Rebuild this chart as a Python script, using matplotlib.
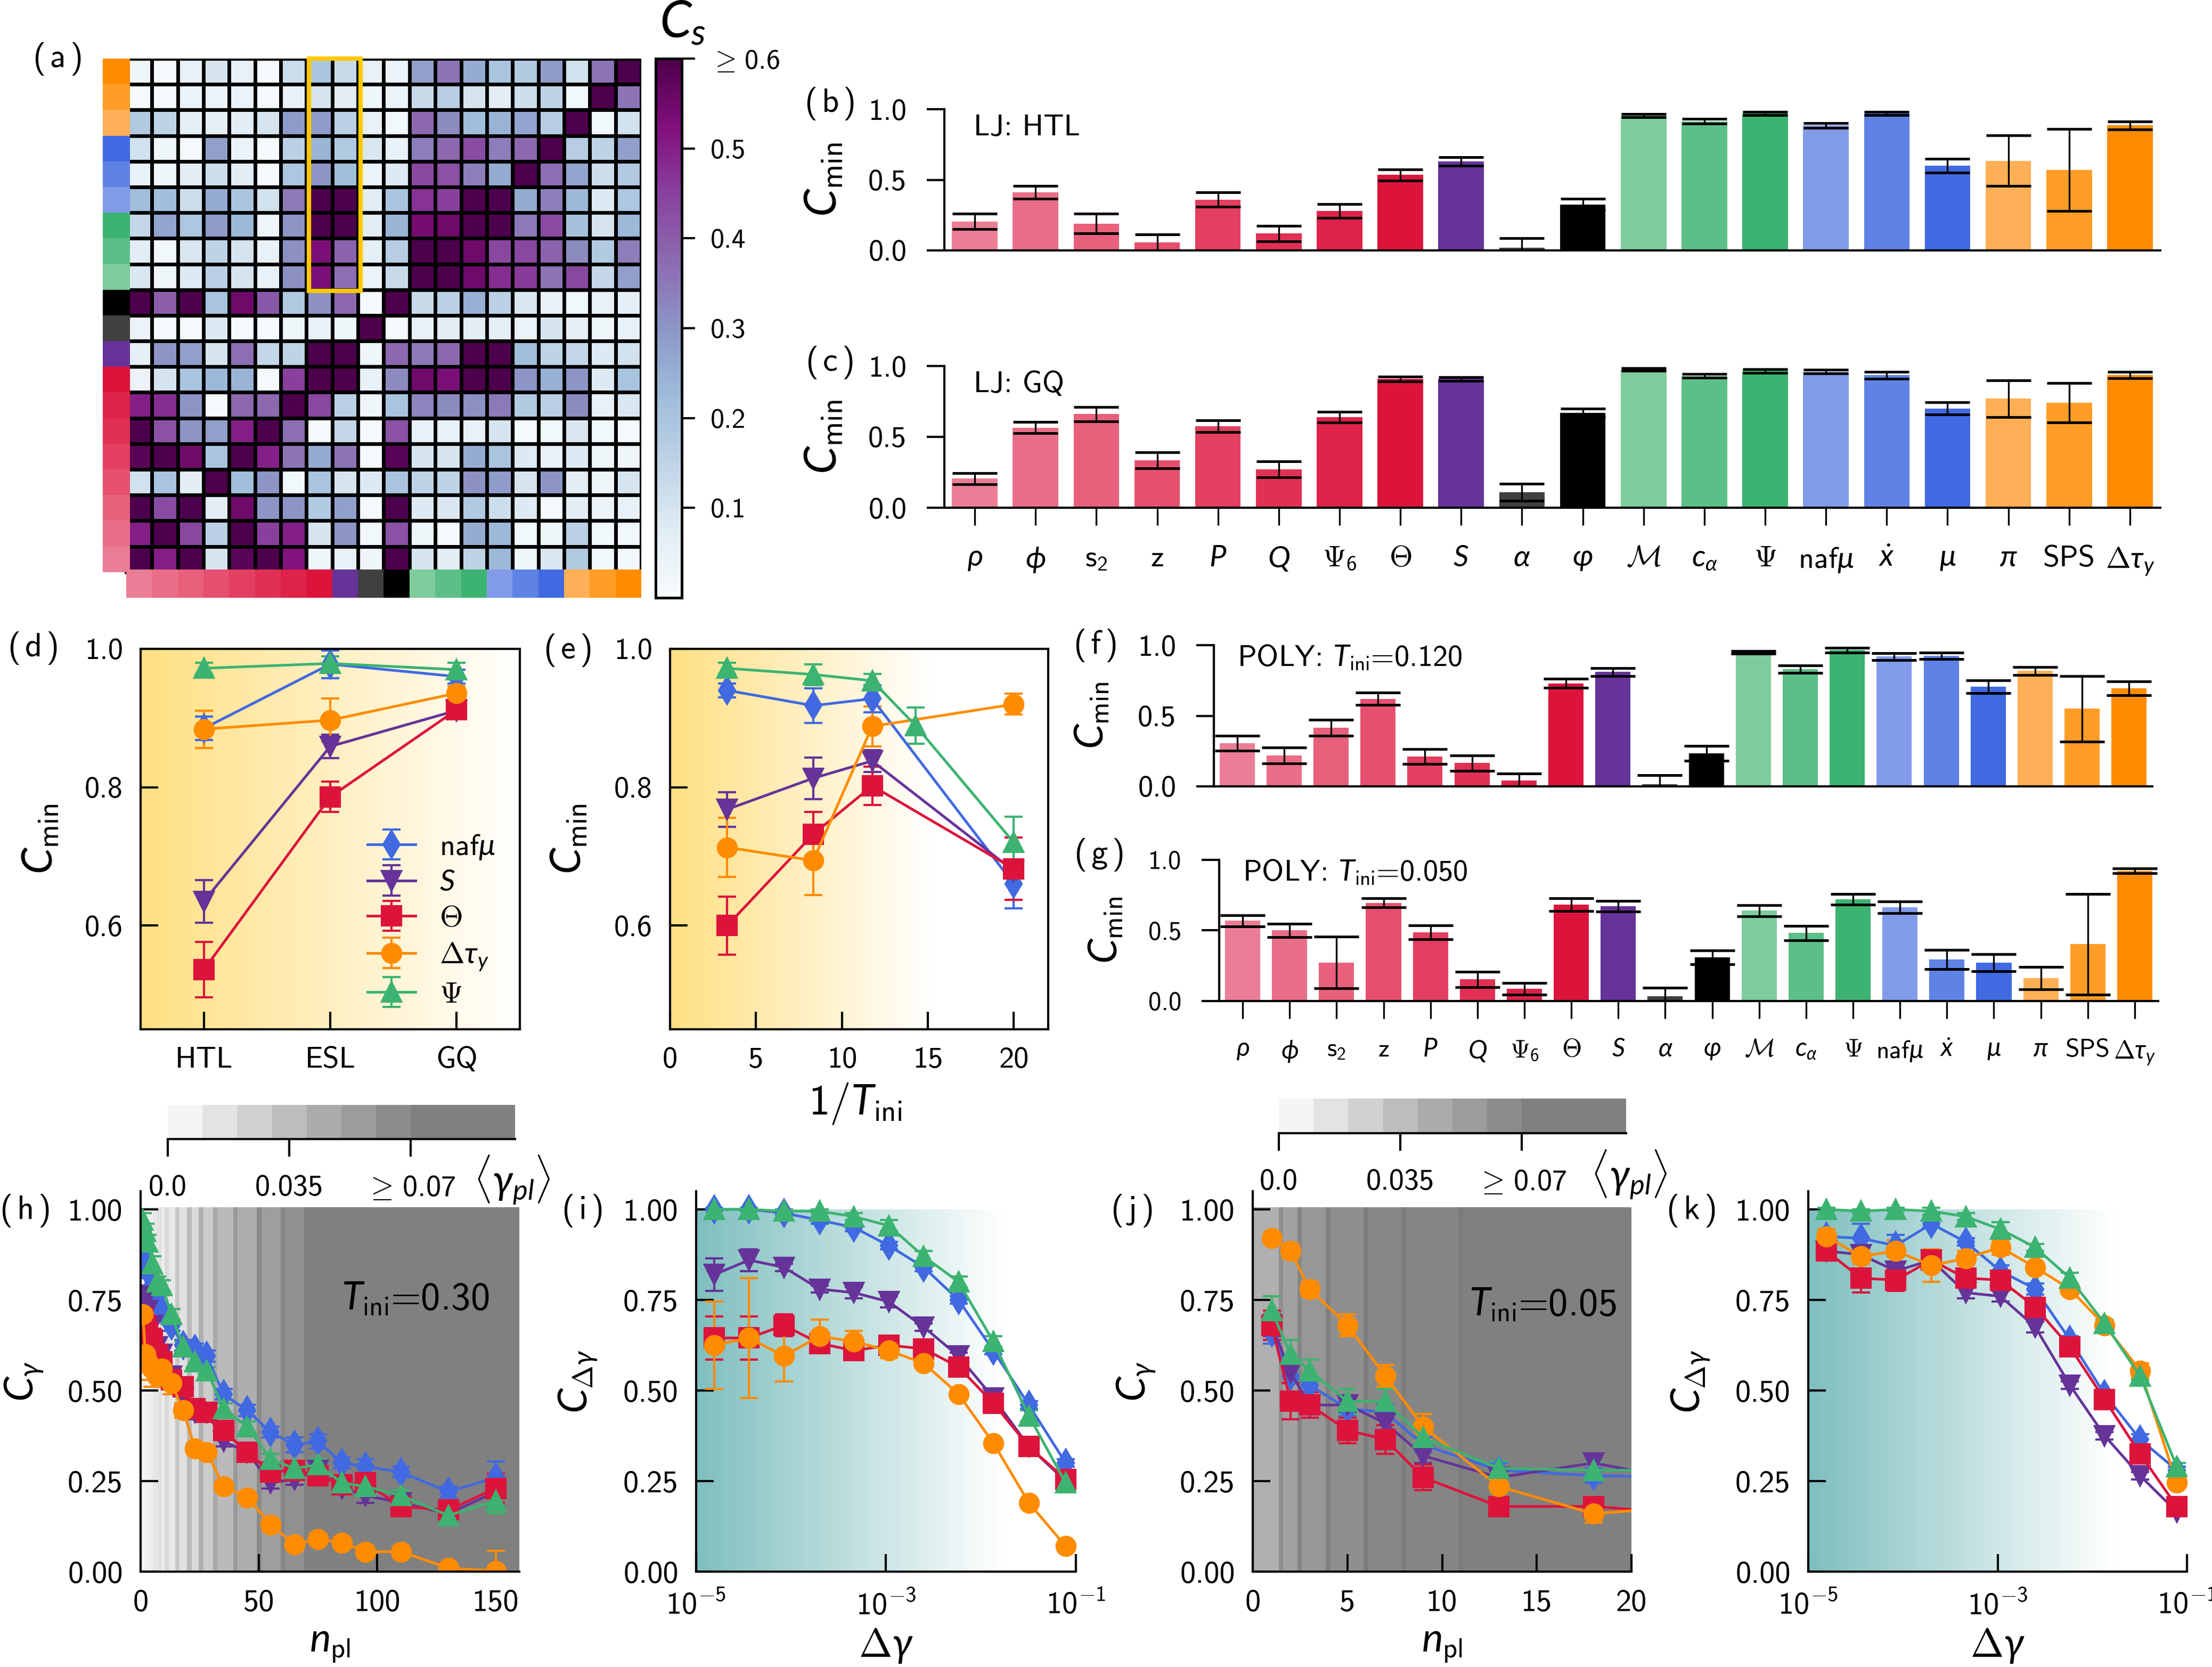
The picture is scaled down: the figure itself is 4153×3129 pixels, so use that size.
import numpy as np
import matplotlib
matplotlib.use("Agg")
import matplotlib.pyplot as plt
from matplotlib.colors import LinearSegmentedColormap, Normalize
from matplotlib.patches import Rectangle
from matplotlib.cm import ScalarMappable

plt.rcParams['font.family'] = ['cmss10', 'DejaVu Sans']
plt.rcParams['mathtext.fontset'] = 'custom'
plt.rcParams['mathtext.rm'] = 'cmss10'
plt.rcParams['mathtext.sf'] = 'cmss10'
plt.rcParams['mathtext.it'] = 'Lato:italic'
plt.rcParams['mathtext.cal'] = 'cmsy10'
plt.rcParams['mathtext.fallback'] = 'cm'
plt.rcParams['axes.unicode_minus'] = False
plt.rcParams['axes.linewidth'] = 1.0

W, H = 4153, 3129
DPI = 300

# observables
obs_labels = [r'$\rho$', r'$\phi$', r'$\mathsf{s}_2$', 'z', r'$P$', r'$Q$', r'$\Psi_6$', r'$\Theta$', r'$S$',
              r'$\alpha$', r'$\varphi$', r'$\mathcal{M}$', r'$c_\alpha$', r'$\Psi$', r'naf$\mu$', r'$\dot{x}$',
              r'$\mu$', r'$\pi$', 'SPS', r'$\Delta\tau_y$']
obs_colors = ['#ec7d96', '#ea6e87', '#e8607b', '#e64f6f', '#e33f60', '#e13054', '#de2249', '#dc143c', '#663399',
              '#404040', '#000000', '#7ecb9c', '#5cbf87', '#3cb371', '#829be9', '#5f82e5', '#4169e1',
              '#ffb056', '#ff9d26', '#ff8c00']

# panel a, rows top to bottom (reversed observables), columns rho ... dtau_y
cs_matrix = [
    [.03, .01, .05, .10, .05, .01, .12, .20, .13, .05, .04, .28, .36, .26, .20, .18, .29, .11, .36, .60],
    [.01, .01, .04, .04, .04, .01, .05, .10, .07, .03, .04, .13, .17, .10, .07, .12, .15, .02, .60, .36],
    [.18, .15, .06, .06, .07, .10, .29, .29, .16, .05, .02, .38, .32, .22, .24, .27, .17, .60, .02, .11],
    [.11, .03, .01, .28, .04, .01, .16, .24, .18, .09, .05, .34, .38, .43, .34, .38, .60, .17, .15, .28],
    [.05, .03, .07, .12, .07, .01, .19, .30, .22, .04, .08, .44, .42, .34, .26, .60, .37, .27, .12, .18],
    [.22, .22, .12, .26, .20, .11, .35, .60, .60, .07, .20, .47, .45, .60, .60, .26, .34, .23, .08, .19],
    [.14, .27, .19, .29, .23, .03, .30, .60, .60, .07, .24, .54, .55, .60, .60, .35, .43, .21, .10, .23],
    [.07, .02, .09, .15, .10, .05, .31, .53, .39, .06, .17, .60, .60, .55, .44, .44, .39, .32, .18, .34],
    [.09, .03, .08, .16, .10, .05, .31, .53, .37, .04, .13, .60, .60, .55, .48, .46, .36, .44, .14, .28],
    [.60, .40, .60, .20, .55, .41, .18, .31, .38, .01, .60, .13, .16, .25, .16, .09, .05, .02, .05, .06],
    [.04, .01, .01, .08, .01, .01, .03, .05, .03, .60, .01, .05, .07, .07, .06, .04, .10, .06, .03, .05],
    [.06, .30, .28, .10, .37, .14, .15, .60, .60, .03, .38, .35, .38, .60, .60, .22, .15, .14, .08, .11],
    [.04, .10, .20, .23, .24, .01, .45, .60, .60, .05, .32, .55, .53, .60, .60, .30, .25, .30, .08, .20],
    [.50, .48, .30, .01, .38, .38, .60, .44, .16, .03, .20, .33, .32, .31, .35, .18, .16, .32, .05, .09],
    [.60, .42, .30, .28, .50, .60, .37, .01, .14, .01, .42, .05, .05, .05, .10, .01, .02, .09, .02, .01],
    [.58, .60, .55, .20, .60, .50, .36, .26, .36, .01, .58, .10, .10, .26, .20, .08, .05, .08, .03, .03],
    [.11, .20, .07, .60, .22, .30, .02, .20, .10, .08, .20, .15, .15, .31, .29, .10, .30, .07, .03, .10],
    [.60, .43, .60, .07, .55, .30, .30, .18, .28, .01, .60, .08, .09, .18, .12, .08, .01, .07, .04, .05],
    [.50, .60, .44, .16, .60, .45, .50, .10, .30, .02, .42, .03, .01, .26, .23, .02, .03, .16, .02, .02],
    [.60, .50, .60, .10, .58, .60, .52, .03, .05, .03, .60, .10, .07, .15, .23, .03, .09, .18, .02, .02],
]
cs_ticks = [0.1, 0.2, 0.3, 0.4, 0.5, 0.6]
cs_ticklabels = ['0.1', '0.2', '0.3', '0.4', '0.5', r'$\geq\,$0.6']

# bar panels
b_vals = [.205, .41, .19, .055, .36, .12, .28, .535, .63, .02, .325, .955, .915, .97, .885, .97, .60, .635, .57, .885]
b_errs = [.055, .045, .07, .06, .05, .055, .05, .04, .03, .065, .04, .012, .018, .012, .017, .01, .05, .18, .29, .03]
c_vals = [.205, .565, .66, .335, .575, .27, .64, .908, .908, .11, .67, .975, .93, .965, .96, .935, .70, .77, .74, .935]
c_errs = [.04, .04, .05, .057, .043, .057, .038, .017, .014, .06, .03, .01, .013, .012, .014, .025, .043, .13, .14, .022]
f_vals = [.305, .22, .415, .62, .21, .165, .04, .73, .81, .015, .233, .95, .83, .965, .92, .925, .705, .817, .55, .695]
f_errs = [.053, .057, .055, .043, .053, .055, .05, .032, .028, .065, .053, .01, .026, .016, .025, .023, .045, .03, .233, .05]
g_vals = [.568, .50, .272, .696, .486, .153, .087, .683, .671, .034, .31, .64, .482, .72, .664, .295, .272, .162, .402, .922]
g_errs = [.04, .046, .183, .033, .05, .055, .043, .045, .037, .06, .05, .04, .05, .038, .042, .068, .06, .08, .355, .016]

# line series colours, markers, names
ser_names = [r'naf$\mu$', r'$S$', r'$\Theta$', r'$\Delta\tau_y$', r'$\Psi$']
ser_colors = ['#4169e1', '#663399', '#dc143c', '#ff8c00', '#3cb371']
ser_markers = ['d', 'v', 's', 'o', '^']

# panel d
d_cats = ['HTL', 'ESL', 'GQ']
d_vals = [[.885, .978, .96], [.635, .859, .911], [.536, .786, .912], [.884, .897, .936], [.972, .979, .97]]
d_errs = [[.017, .02, .01], [.031, .017, .01], [.04, .022, .012], [.027, .031, .01], [.008, .01, .01]]

# panel e
e_x = [3.33, 8.33, 11.76, 20]
e_psi_x = [3.33, 8.33, 11.76, 14.29, 20]
e_vals = [[.94, .918, .928, .66], [.768, .813, .838, .679], [.60, .732, .802, .682], [.713, .694, .888, .92],
          [.972, .963, .954, .889, .72]]
e_errs = [[.01, .025, .02, .035], [.025, .03, .016, .01], [.042, .032, .028, .045], [.043, .05, .029, .015],
          [.008, .015, .01, .026, .037]]

# panels h, j
npl = [1, 2, 3, 5, 7, 9, 13, 18, 23, 28, 35, 45, 55, 65, 75, 85, 95, 110, 130, 150]
h_vals = [
    [.92, .87, .83, .79, .76, .72, .68, .625, .615, .595, .49, .445, .385, .35, .36, .30, .29, .275, .22, .26],
    [.76, .75, .72, .68, .62, .60, .54, .48, .44, .44, .36, .33, .245, .255, .28, .23, .21, .19, .16, .22],
    [.70, .68, .66, .64, .60, .58, .53, .51, .45, .44, .39, .33, .275, .28, .265, .24, .245, .18, .17, .23],
    [.71, .60, .58, .56, .54, .56, .52, .445, .34, .33, .235, .205, .13, .075, .09, .08, .055, .055, .01, .002],
    [.97, .94, .91, .85, .80, .79, .71, .62, .58, .555, .45, .40, .31, .285, .295, .245, .235, .21, .155, .195],
]
h_errs = [
    [.02, .02, .02, .02, .02, .015, .015, .015, .015, .015, .015, .015, .015, .02, .02, .015, .02, .015, .015, .045],
    [.03, .03, .02, .02, .02, .02, .02, .02, .02, .015, .015, .015, .015, .015, .02, .015, .02, .015, .02, .04],
    [.04, .03, .03, .03, .02, .02, .02, .02, .02, .02, .015, .015, .015, .015, .015, .015, .015, .01, .015, .04],
    [.05, .05, .05, .05, .03, .03, .03, .02, .015, .015, .015, .015, .015, .015, .015, .015, .015, .015, .01, .055],
    [.02, .02, .02, .02, .015, .015, .015, .015, .015, .01, .015, .015, .015, .02, .015, .015, .015, .015, .015, .035],
]
j_vals = [
    [.66, .54, .515, .45, .44, .35, .28, .265, .26],
    [.68, .55, .46, .46, .41, .32, .26, .30, .25],
    [.68, .47, .46, .39, .365, .26, .18, .18, .16],
    [.92, .885, .78, .68, .54, .40, .235, .16, .18],
    [.72, .60, .555, .47, .47, .37, .285, .28, .28],
]
j_errs = [
    [.03, .02, .02, .02, .02, .02, .02, .02, .02],
    [.03, .03, .02, .02, .02, .02, .02, .02, .02],
    [.04, .05, .035, .035, .04, .035, .02, .02, .02],
    [.01, .02, .02, .03, .03, .035, .03, .025, .02],
    [.04, .04, .03, .035, .035, .02, .02, .02, .02],
]
npl_j = [1, 2, 3, 5, 7, 9, 13, 18, 23]

# panels i, k
dgamma = [1.56e-5, 3.6e-5, 8.4e-5, 2e-4, 4.6e-4, 1.07e-3, 2.5e-3, 5.8e-3, 1.35e-2, 3.2e-2, 7.8e-2]
i_vals = [
    [1.0, 1.0, .99, .97, .95, .90, .84, .75, .61, .46, .30],
    [.82, .86, .84, .78, .77, .745, .675, .595, .48, .345, .25],
    [.645, .645, .68, .63, .61, .625, .615, .565, .465, .345, .255],
    [.625, .645, .595, .65, .635, .61, .575, .49, .355, .19, .07],
    [1.0, 1.0, .995, .995, .98, .955, .87, .80, .635, .43, .245],
]
i_errs = [
    [.005, .005, .005, .01, .01, .01, .01, .01, .01, .01, .01],
    [.045, .03, .01, .01, .015, .015, .01, .01, .01, .01, .01],
    [.06, .06, .03, .015, .015, .01, .015, .01, .01, .01, .01],
    [.12, .165, .07, .045, .03, .02, .01, .01, .01, .01, .01],
    [.005, .005, .005, .005, .01, .015, .015, .015, .015, .015, .01],
]
k_vals = [
    [.925, .92, .90, .96, .91, .83, .78, .64, .49, .365, .28],
    [.885, .875, .83, .86, .77, .76, .675, .515, .375, .265, .165],
    [.885, .81, .805, .86, .81, .805, .73, .62, .475, .325, .18],
    [.925, .87, .885, .845, .865, .895, .84, .78, .68, .555, .245],
    [1.0, .995, 1.0, .995, .98, .945, .895, .81, .685, .54, .29],
]
k_errs = [
    [.01, .04, .03, .01, .01, .015, .015, .01, .01, .015, .01],
    [.01, .015, .01, .01, .015, .015, .015, .01, .01, .01, .01],
    [.02, .04, .03, .02, .02, .015, .015, .01, .01, .01, .01],
    [.02, .02, .03, .045, .02, .02, .015, .01, .01, .02, .01],
    [.005, .005, .005, .01, .01, .02, .01, .015, .01, .01, .01],
]

# gray backgrounds of h, j and the <gamma_pl> scale
h_band_edges = [0, 1.35, 3.2, 5.1, 7.1, 9, 10.1, 11.9, 14.6, 16.5, 19.6, 21.5, 24.6, 26.5, 30.6, 32.4, 39.1, 41,
                49.1, 51, 59.1, 61, 69.1, 160]
h_band_gray = [.96, .94, .93, .90, .88, .93, .85, .91, .78, .88, .73, .85, .69, .80, .66, .73, .60, .68, .54, .62,
               .52, .565, .50]
j_band_edges = [0, 1.37, 1.6, 2.37, 2.6, 3.86, 4.1, 5.86, 6.1, 7.86, 8.1, 10.85, 11.1, 20]
j_band_gray = [.69, .56, .63, .52, .59, .50, .56, .49, .535, .49, .52, .485, .50]
gp_edges = [0, .01, .02, .03, .04, .05, .06, .07, .10]
gp_gray = [.96, .89, .82, .74, .67, .61, .55, .50]
gp_ticks = [0, .035, .07]
gp_ticklabels = ['0.0', '0.035', r'$\geq\,$0.07']


def px_axes(fig, left, right, top, bottom):
    return fig.add_axes([left / W, 1 - bottom / H, (right - left) / W, (bottom - top) / H])


def panel_label(fig, s, x, y):
    fig.text(x / W, 1 - y / H, r'$(\,\mathsf{' + s + r'}\,)$', ha='center', va='center', fontsize=15)


def style_open(ax):
    ax.spines['top'].set_visible(False)
    ax.spines['right'].set_visible(False)


def gradient(ax, color, frac, top=1.0):
    cm = LinearSegmentedColormap.from_list('g', ['white', color])
    ax.imshow(np.linspace(1, 0, 256)[None, :], cmap=cm, vmin=0, vmax=1, aspect='auto', zorder=0,
              extent=(0, frac, 0, top), transform=ax.transAxes)


def bar_panel(ax, vals, errs, ylx, tickfs=13.5, labfs=20, show_x=False, xfs=13.5):
    ax.bar(range(20), vals, width=0.75, color=obs_colors, yerr=errs,
           error_kw=dict(ecolor='k', capsize=10, capthick=1.2, elinewidth=0.8))
    ax.set_xlim(-0.5, 19.5)
    ax.set_ylim(0, 1)
    style_open(ax)
    ax.set_yticks([0, .5, 1])
    ax.set_yticklabels(['0.0', '0.5', '1.0'], fontsize=tickfs)
    ax.tick_params(axis='y', length=8, width=1.0, pad=9)
    if show_x:
        ax.set_xticks(range(20))
        ax.set_xticklabels(obs_labels, fontsize=xfs)
        ax.tick_params(axis='x', length=8, width=0.8, pad=9)
    else:
        ax.set_xticks([])
    ax.set_ylabel(r'$C_{\mathsf{min}}$', fontsize=labfs, va='center')
    ax.yaxis.set_label_coords(ylx, 0.5)


def line_series(ax, xs, vals, errs, lw=1.2):
    for k in range(5):
        x = xs[k] if isinstance(xs[0], list) else xs
        ax.errorbar(x, vals[k], yerr=errs[k], color=ser_colors[k], marker=ser_markers[k], ms=8.5, lw=lw,
                    capsize=4, capthick=1.0, elinewidth=1.0, label=ser_names[k])


def decay_panel(ax, ylab, ylx):
    ax.set_ylim(0, 1.05)
    style_open(ax)
    ax.set_yticks([0, .25, .5, .75, 1])
    ax.set_yticklabels(['0.00', '0.25', '0.50', '0.75', '1.00'], fontsize=14)
    ax.tick_params(axis='both', which='major', direction='in', length=8, width=1.0, pad=8)
    ax.tick_params(axis='x', which='minor', length=0)
    ax.set_ylabel(ylab, fontsize=18, va='center')
    ax.yaxis.set_label_coords(ylx, 0.5)


def gamma_scale(fig, left, right, top, bottom, lab_x, lab_y):
    ax = px_axes(fig, left, right, top, bottom)
    ax.pcolormesh(gp_edges, [0, 1], np.array(gp_gray)[None, :], cmap='gray', vmin=0, vmax=1)
    for s in ['top', 'left', 'right']:
        ax.spines[s].set_visible(False)
    ax.set_yticks([])
    ax.set_xticks(gp_ticks)
    ax.set_xticklabels(gp_ticklabels, fontsize=13.5)
    ax.tick_params(axis='x', length=8, width=1.0, pad=8)
    fig.text(lab_x / W, 1 - lab_y / H, r'$\langle \gamma_{pl} \rangle$', fontsize=18, ha='center', va='center')


fig = plt.figure(figsize=(W / DPI, H / DPI), dpi=DPI)

# (a) similarity matrix
ax = px_axes(fig, 193, 1204, 110, 1122)
cmap_cs = plt.get_cmap('BuPu')
norm_cs = Normalize(0, 0.6)
edges = np.arange(21)
ax.pcolormesh(edges, edges, cs_matrix, cmap=cmap_cs, norm=norm_cs, edgecolors='k', linewidth=1.6)
ax.barh(np.arange(20) + 0.5, 1.06, left=-0.91, height=1, color=obs_colors[::-1], zorder=3)
ax.bar(np.arange(20) + 0.5, 1.1, bottom=19.9, width=1, color=obs_colors, zorder=3)
ax.add_patch(Rectangle((7.1, 0), 2, 9.05, fill=False, ec='#ffc800', lw=2.0, zorder=4, clip_on=False))
ax.set_xlim(-0.91, 20)
ax.set_ylim(21, 0)
ax.axis('off')

cax = px_axes(fig, 1231, 1280, 110, 1122)
cb = fig.colorbar(ScalarMappable(norm=norm_cs, cmap=cmap_cs), cax=cax, ticks=cs_ticks)
cb.ax.set_yticklabels(cs_ticklabels, fontsize=12.5)
cb.ax.tick_params(length=6, width=1.0, pad=7)
cb.outline.set_linewidth(1.2)
fig.text(1282 / W, 1 - 44 / H, r'$C_s$', fontsize=23, ha='center', va='center')

# (b) (c) LJ bars
ax = px_axes(fig, 1773, 4056, 205, 470)
bar_panel(ax, b_vals, b_errs, -0.0986)
ax.text(0.024, 0.87, 'LJ: HTL', transform=ax.transAxes, fontsize=13.5, va='center')
ax = px_axes(fig, 1773, 4056, 687, 953)
bar_panel(ax, c_vals, c_errs, -0.0986, show_x=True)
ax.text(0.024, 0.87, 'LJ: GQ', transform=ax.transAxes, fontsize=13.5, va='center')

# (f) (g) POLY bars
ax = px_axes(fig, 2279, 4041, 1211, 1476)
bar_panel(ax, f_vals, f_errs, -0.129, labfs=18)
ax.text(0.025, 0.91, r'POLY: $T_{\mathsf{ini}}$=0.120', transform=ax.transAxes, fontsize=13.5, va='center')
ax = px_axes(fig, 2289, 4052, 1614, 1879)
bar_panel(ax, g_vals, g_errs, -0.12, tickfs=11.7, labfs=18, show_x=True, xfs=11.5)
ax.text(0.025, 0.91, r'POLY: $T_{\mathsf{ini}}$=0.050', transform=ax.transAxes, fontsize=13.5, va='center')

# (d)
ax = px_axes(fig, 264, 976, 1218, 1932)
gradient(ax, '#ffe083', 1.0)
line_series(ax, range(3), d_vals, d_errs)
ax.set_xlim(-0.5, 2.5)
ax.set_ylim(0.45, 1.0)
ax.set_xticks(range(3))
ax.set_xticklabels(d_cats, fontsize=13.5)
ax.set_yticks([.6, .8, 1.0])
ax.set_yticklabels(['0.6', '0.8', '1.0'], fontsize=13.5)
ax.tick_params(direction='in', length=8, width=1.0, pad=8)
ax.set_ylabel(r'$C_{\mathsf{min}}$', fontsize=19, va='center')
ax.yaxis.set_label_coords(-0.263, 0.5)
ax.legend(loc='lower right', frameon=False, fontsize=13.5, labelspacing=0.29, handlelength=1.6, handletextpad=0.8,
          borderaxespad=0.3, bbox_to_anchor=(0.99, 0.0))

# (e)
ax = px_axes(fig, 1258, 1968, 1218, 1932)
gradient(ax, '#ffe083', 0.69)
line_series(ax, [e_x, e_x, e_x, e_x, e_psi_x], e_vals, e_errs)
ax.set_xlim(0, 22)
ax.set_ylim(0.45, 1.0)
ax.set_xticks([0, 5, 10, 15, 20])
ax.set_xticklabels(['0', '5', '10', '15', '20'], fontsize=13.5)
ax.set_yticks([.6, .8, 1.0])
ax.set_yticklabels(['0.6', '0.8', '1.0'], fontsize=13.5)
ax.tick_params(direction='in', length=8, width=1.0, pad=8)
ax.set_ylabel(r'$C_{\mathsf{min}}$', fontsize=19, va='center')
ax.yaxis.set_label_coords(-0.266, 0.5)
ax.set_xlabel(r'$1/T_{\mathsf{ini}}$', fontsize=19, va='center')
ax.xaxis.set_label_coords(0.49, -0.195)

# (h)
ax = px_axes(fig, 264, 975, 2236, 2950)
ax.pcolormesh(h_band_edges, [0, 1.006], np.array(h_band_gray)[None, :], cmap='gray', vmin=0, vmax=1, zorder=0)
line_series(ax, npl, h_vals, h_errs)
ax.set_xlim(0, 160)
ax.set_xticks([0, 50, 100, 150])
ax.set_xticklabels(['0', '50', '100', '150'], fontsize=14)
decay_panel(ax, r'$C_{\gamma}$', -0.307)
ax.set_xlabel(r'$n_{\mathsf{pl}}$', fontsize=18, va='center')
ax.xaxis.set_label_coords(0.5, -0.195)
ax.text(0.53, 0.716, r'$T_{\mathsf{ini}}$=0.30', transform=ax.transAxes, fontsize=17.5, va='center')

# (i)
ax = px_axes(fig, 1307, 2020, 2236, 2950)
gradient(ax, '#7fbfbf', 0.81, top=1 / 1.05)
line_series(ax, dgamma, i_vals, i_errs)
ax.set_xscale('log')
ax.set_xlim(1e-5, 1e-1)
ax.set_xticks([1e-5, 1e-3, 1e-1])
ax.set_xticklabels([r'$\mathsf{10^{-5}}$', r'$\mathsf{10^{-3}}$', r'$\mathsf{10^{-1}}$'], fontsize=14)
decay_panel(ax, r'$C_{\Delta\gamma}$', -0.311)
ax.set_xlabel(r'$\Delta\gamma$', fontsize=18, va='center')
ax.xaxis.set_label_coords(0.5, -0.195)

# (j)
ax = px_axes(fig, 2352, 3063, 2236, 2950)
ax.pcolormesh(j_band_edges, [0, 1.006], np.array(j_band_gray)[None, :], cmap='gray', vmin=0, vmax=1, zorder=0)
line_series(ax, npl_j, j_vals, j_errs)
ax.set_xlim(0, 20)
ax.set_xticks([0, 5, 10, 15, 20])
ax.set_xticklabels(['0', '5', '10', '15', '20'], fontsize=14)
decay_panel(ax, r'$C_{\gamma}$', -0.308)
ax.set_xlabel(r'$n_{\mathsf{pl}}$', fontsize=18, va='center')
ax.xaxis.set_label_coords(0.5, -0.195)
ax.text(0.571, 0.70, r'$T_{\mathsf{ini}}$=0.05', transform=ax.transAxes, fontsize=17.5, va='center')

# (k)
ax = px_axes(fig, 3395, 4106, 2236, 2950)
gradient(ax, '#7fbfbf', 0.806, top=1 / 1.05)
line_series(ax, dgamma, k_vals, k_errs)
ax.set_xscale('log')
ax.set_xlim(1e-5, 1e-1)
ax.set_xticks([1e-5, 1e-3, 1e-1])
ax.set_xticklabels([r'$\mathsf{10^{-5}}$', r'$\mathsf{10^{-3}}$', r'$\mathsf{10^{-1}}$'], fontsize=14)
decay_panel(ax, r'$C_{\Delta\gamma}$', -0.311)
ax.set_xlabel(r'$\Delta\gamma$', fontsize=18, va='center')
ax.xaxis.set_label_coords(0.5, -0.195)

gamma_scale(fig, 315, 967, 2074, 2138, 961, 2215)
gamma_scale(fig, 2401, 3053, 2062, 2127, 3058, 2205)

for s, x, y in [('a', 107, 110), ('b', 1557, 194), ('c', 1557, 681), ('d', 61, 1217), ('e', 1065, 1220),
                ('f', 2056, 1211), ('g', 2063, 1604), ('h', 46, 2272), ('i', 1092, 2272), ('j', 2124, 2272),
                ('k', 3174, 2272)]:
    panel_label(fig, s, x, y)

fig.savefig('out.png', dpi=DPI)
